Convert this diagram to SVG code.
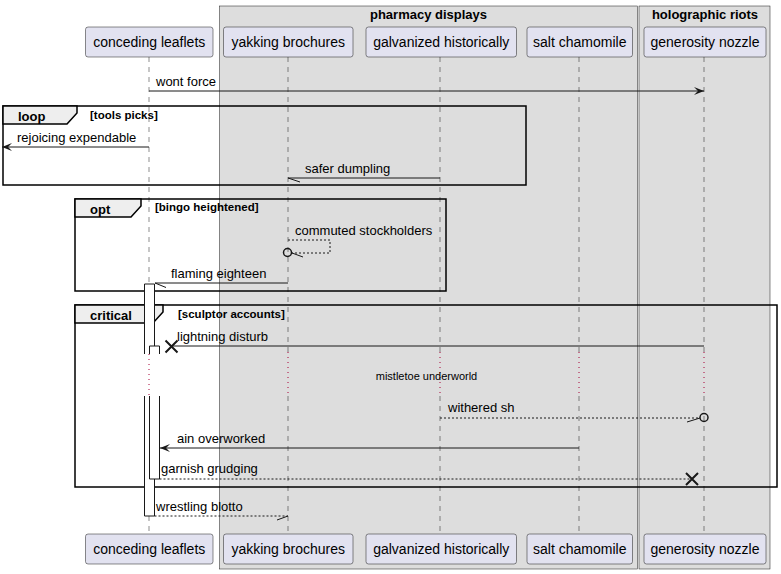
<svg xmlns="http://www.w3.org/2000/svg" width="781" height="574" viewBox="0 0 781 574">
<defs>
<style>
text{font-family:"Liberation Sans",Arial,sans-serif;fill:#000}
.pbox{fill:#E2E2F0;stroke:#181818;stroke-width:0.5}
.ptxt{font-size:14px;text-anchor:middle}
.grp{fill:#DDDDDD;stroke:#181818;stroke-width:0.5}
.gtitle{font-size:13px;font-weight:bold;text-anchor:middle}
.life{stroke:#181818;stroke-width:0.5;stroke-dasharray:5,5;fill:none}
.delay{stroke:#A80036;stroke-width:1;stroke-dasharray:1,4;fill:none}
.frame{fill:none;stroke:#000;stroke-width:1.5}
.tab{fill:#EEEEEE;stroke:#000;stroke-width:1.5}
.ftitle{font-size:13px;font-weight:bold}
.guard{font-size:11.5px;font-weight:bold}
.msg{stroke:#181818;stroke-width:1;fill:none}
.dash{stroke-dasharray:2,2}
.mtxt{font-size:13px}
.x{stroke:#181818;stroke-width:2}
.circ{fill:none;stroke:#181818;stroke-width:1.5}
</style>
<marker id="ah" markerWidth="10" markerHeight="8" refX="10" refY="4" orient="auto" markerUnits="userSpaceOnUse">
<path d="M0,0 L10,4 L0,8 L4,4 Z" fill="#181818"/>
</marker>
</defs>
<rect width="781" height="574" fill="#FFFFFF"/>
<g id="group-pharmacy-displays">
<rect class="grp" x="219.5" y="6" width="418" height="563"/>
<text class="gtitle" x="428.5" y="19">pharmacy displays</text>
</g>
<g id="group-holographic-riots">
<rect class="grp" x="639" y="6" width="131" height="563"/>
<text class="gtitle" x="705" y="19">holographic riots</text>
</g>
<g id="lifelines">
<path class="life" d="M149,57 V352 M149,396 V534"/>
<path class="life" d="M288,57 V352 M288,396 V534"/>
<path class="life" d="M440,57 V352 M440,396 V534"/>
<path class="life" d="M579,57 V352 M579,396 V534"/>
<path class="life" d="M704,57 V352 M704,396 V534"/>
<path class="delay" d="M149,352 V396 M288,352 V396 M440,352 V396 M579,352 V396 M704,352 V396"/>
<text x="426.5" y="380" style="font-size:11px;text-anchor:middle">mistletoe underworld</text>
</g>
<g id="frame-loop">
<rect class="frame" x="3" y="106" width="523" height="79"/>
<polygon class="tab" points="3,106 77,106 77,113 67,124 3,124"/>
<text class="ftitle" x="18" y="121">loop</text>
<text class="guard" x="90" y="119">[tools picks]</text>
</g>
<g id="frame-opt">
<rect class="frame" x="75" y="199" width="371" height="92"/>
<polygon class="tab" points="75,199 141,199 141,206 131,217 75,217"/>
<text class="ftitle" x="90" y="214">opt</text>
<text class="guard" x="155" y="211">[bingo heightened]</text>
</g>
<g id="frame-critical">
<rect class="frame" x="75" y="305" width="702" height="182"/>
<polygon class="tab" points="75,305 163,305 163,312 153,323 75,323"/>
<text class="ftitle" x="90" y="320">critical</text>
<text class="guard" x="178" y="318">[sculptor accounts]</text>
</g>
<g id="activations">
<rect x="144.5" y="284" width="10" height="232" fill="#FFFFFF"/>
<path class="msg" d="M144.5,284 H154.5 M144.5,284 V354 M154.5,284 V346 M144.5,396 V516 H154.5 V479"/>
<rect x="149.5" y="346" width="10" height="133" fill="#FFFFFF"/>
<rect x="144.5" y="354" width="16" height="42" fill="#FFFFFF"/>
<path class="delay" d="M149,354 V396"/>
<path class="msg" d="M149.5,354 V346 H159.5 V354 M149.5,396 V479 H159.5 V396"/>
</g>
<g id="participant-conceding-leaflets">
<rect class="pbox" x="85.5" y="27" width="127.5" height="30" rx="2.5"/>
<text class="ptxt" x="149.25" y="47">conceding leaflets</text>
<rect class="pbox" x="85.5" y="534" width="127.5" height="30" rx="2.5"/>
<text class="ptxt" x="149.25" y="554">conceding leaflets</text>
</g>
<g id="participant-yakking-brochures">
<rect class="pbox" x="223.5" y="27" width="129.5" height="30" rx="2.5"/>
<text class="ptxt" x="288.25" y="47">yakking brochures</text>
<rect class="pbox" x="223.5" y="534" width="129.5" height="30" rx="2.5"/>
<text class="ptxt" x="288.25" y="554">yakking brochures</text>
</g>
<g id="participant-galvanized-historically">
<rect class="pbox" x="366" y="27" width="150.5" height="30" rx="2.5"/>
<text class="ptxt" x="441.25" y="47">galvanized historically</text>
<rect class="pbox" x="366" y="534" width="150.5" height="30" rx="2.5"/>
<text class="ptxt" x="441.25" y="554">galvanized historically</text>
</g>
<g id="participant-salt-chamomile">
<rect class="pbox" x="527" y="27" width="105.5" height="30" rx="2.5"/>
<text class="ptxt" x="579.75" y="47">salt chamomile</text>
<rect class="pbox" x="527" y="534" width="105.5" height="30" rx="2.5"/>
<text class="ptxt" x="579.75" y="554">salt chamomile</text>
</g>
<g id="participant-generosity-nozzle">
<rect class="pbox" x="644" y="27" width="122" height="30" rx="2.5"/>
<text class="ptxt" x="705" y="47">generosity nozzle</text>
<rect class="pbox" x="644" y="534" width="122" height="30" rx="2.5"/>
<text class="ptxt" x="705" y="554">generosity nozzle</text>
</g>
<g id="connectors">
<line class="msg" x1="149" y1="91" x2="704" y2="91" marker-end="url(#ah)"/>
<text class="mtxt" x="156" y="86">wont force</text>
<line class="msg" x1="149" y1="147" x2="2" y2="147" marker-end="url(#ah)"/>
<text class="mtxt" x="17" y="142">rejoicing expendable</text>
<path class="msg" d="M440,178 H288 L300,182"/>
<text class="mtxt" x="305" y="173">safer dumpling</text>
<path class="msg dash" d="M288,240 H330 V253 H292"/>
<circle class="circ" cx="287.5" cy="252.5" r="4"/>
<line class="msg" x1="292" y1="253" x2="303" y2="257"/>
<text class="mtxt" x="295" y="235">commuted stockholders</text>
<path class="msg" d="M288,283 H155 L166,287.5"/>
<text class="mtxt" x="171" y="278">flaming eighteen</text>
<line class="msg" x1="704" y1="346" x2="172" y2="346"/>
<path class="x" d="M165.5,340.5 L177.5,352.5 M177.5,340.5 L165.5,352.5"/>
<text class="mtxt" x="177" y="341">lightning disturb</text>
<line class="msg dash" x1="440" y1="418" x2="700" y2="418"/>
<circle class="circ" cx="704" cy="417.5" r="4"/>
<line class="msg" x1="687" y1="422" x2="700" y2="418"/>
<text class="mtxt" x="448" y="412">withered sh</text>
<line class="msg" x1="579" y1="448" x2="160" y2="448" marker-end="url(#ah)"/>
<text class="mtxt" x="177" y="443">ain overworked</text>
<line class="msg dash" x1="159.5" y1="479" x2="692" y2="479"/>
<path class="x" d="M686,473 L698,485 M698,473 L686,485"/>
<text class="mtxt" x="161" y="473">garnish grudging</text>
<path class="msg dash" d="M154.5,516 H288"/>
<line class="msg" x1="277" y1="520" x2="288" y2="516"/>
<text class="mtxt" x="156" y="511">wrestling blotto</text>
</g>
</svg>
